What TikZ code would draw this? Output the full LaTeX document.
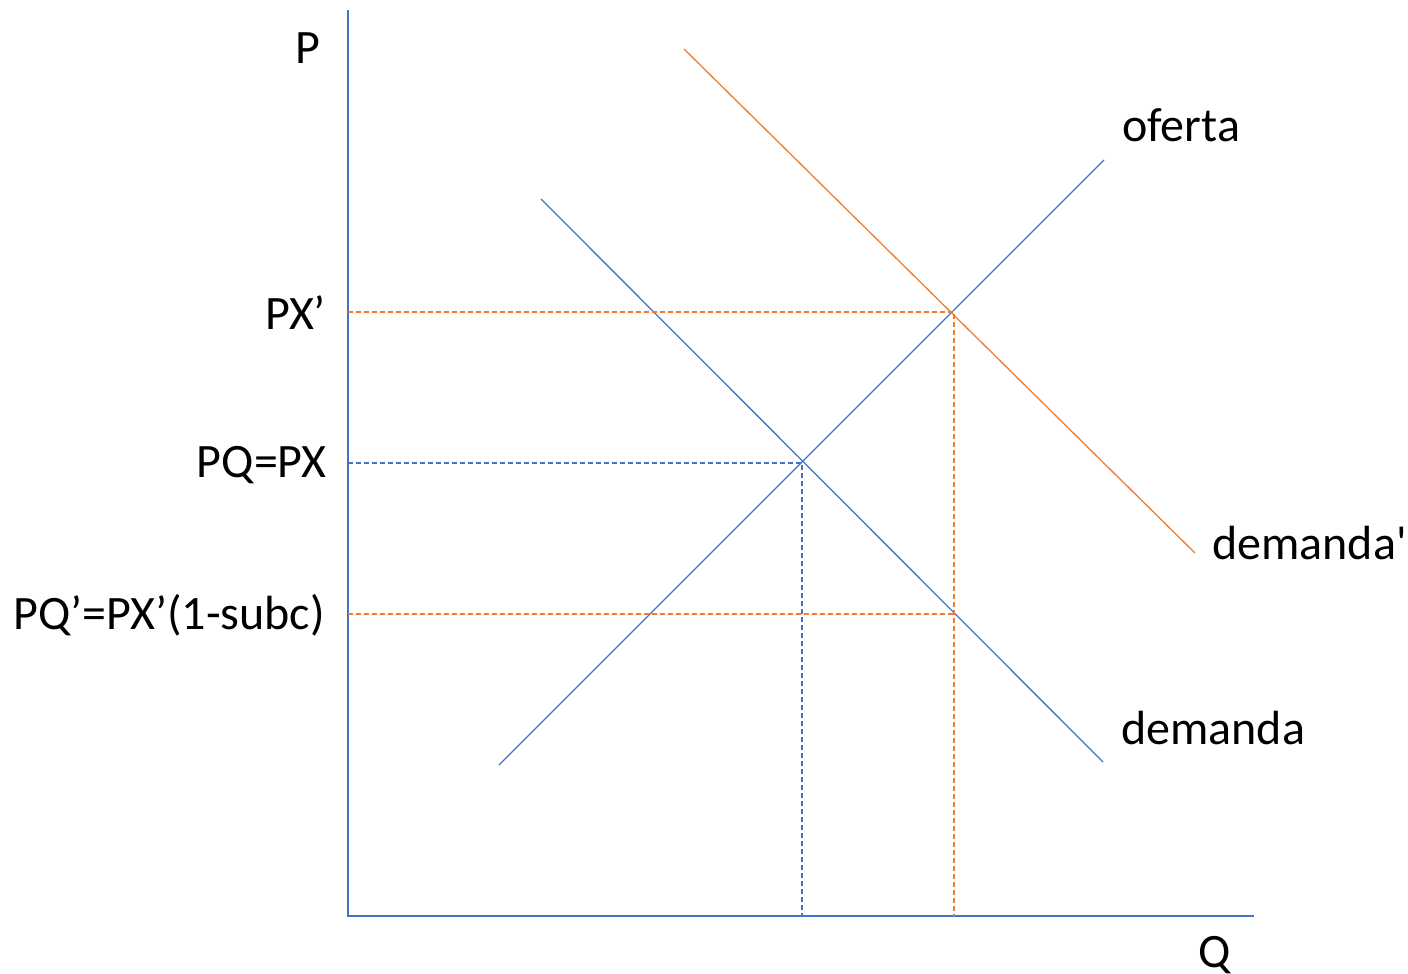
\documentclass[tikz,border=0pt]{standalone}
\usepackage{fontspec}
\setmainfont{Carlito}
\definecolor{xblue}{HTML}{4472C4}
\definecolor{xorange}{HTML}{ED7D31}
\begin{document}
\begin{tikzpicture}[x=1pt,y=-1pt,
  curve/.style={line width=1.3pt},
  guide/.style={line width=1.1pt,dash pattern=on 5pt off 3pt},
  lab/.style={font=\fontsize{48}{56}\selectfont,inner sep=0pt}]
\useasboundingbox (0,0) rectangle (1408,974);
% axes
\coordinate (ytop) at (348,10);
\coordinate (orig) at (348,916);
\coordinate (xend) at (1254,916);
\draw[xblue,curve] (ytop) -- (orig) -- (xend);
% curves
\coordinate (s1) at (499,765); \coordinate (s2) at (1104,160);
\coordinate (d1) at (541,199); \coordinate (d2) at (1103,762);
\coordinate (e1) at (684,49); \coordinate (e2) at (1195,553);
\draw[xblue,curve] (s1) -- (s2);
\draw[xblue,curve] (d1) -- (d2);
\draw[xorange,curve] (e1) -- (e2);
% equilibrium points
\coordinate (eq) at (802,463);
\coordinate (eqn) at (954,312);
\coordinate (low) at (954,614);
\coordinate (ypx) at (348,312);
\coordinate (ypq) at (348,463);
\coordinate (ypq2) at (348,614);
\coordinate (xq) at (802,916);
\coordinate (xq2) at (954,916);
\draw[xorange,guide] (ypx) -- (eqn) -- (xq2);
\draw[xblue,guide] (ypq) -- (eq) -- (xq);
\draw[xorange,guide] (ypq2) -- (low);
% labels
\node[lab] (lp) at (308,48) {P};
\node[lab,anchor=east] (lpx) at (326,313) {PX’};
\node[lab,anchor=east] (lpq) at (327,465) {PQ=PX};
\node[lab,anchor=east] (lpq2) at (325,615) {PQ’=PX’(1-subc)};
\node[lab,anchor=west] (lof) at (1122,125) {oferta};
\node[lab,anchor=west] (lde2) at (1212,543) {demanda\textquotesingle};
\node[lab,anchor=west] (lde) at (1121,728) {demanda};
\node[lab] (lq) at (1215,955) {Q};
\end{tikzpicture}
\end{document}
